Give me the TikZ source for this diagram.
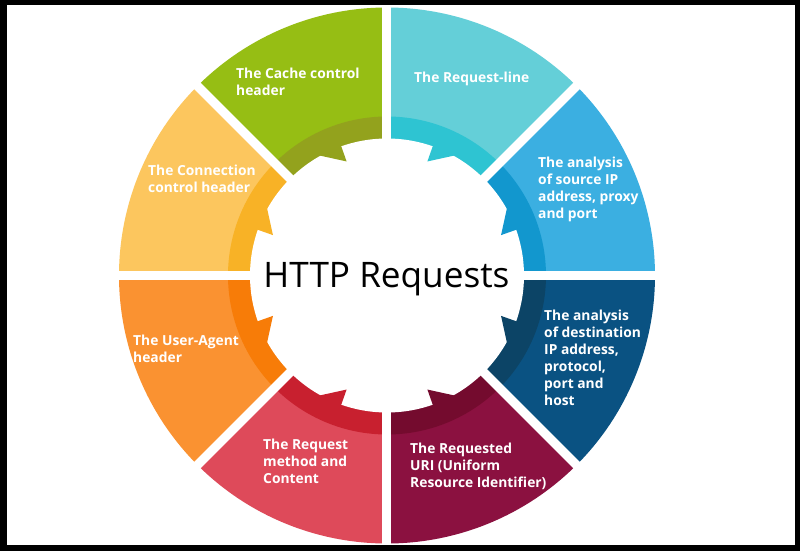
\documentclass[tikz,border=0pt]{standalone}
\usepackage{fontspec}
\setmainfont{Open Sans}
\usepackage{xcolor}
\usepackage{tikz}
\usetikzlibrary{positioning}
\definecolor{blueA}{HTML}{3BAFE1}
\definecolor{blueB}{HTML}{1297CE}
\definecolor{tealA}{HTML}{64CFD8}
\definecolor{tealB}{HTML}{2EC4D2}
\definecolor{greenA}{HTML}{96BE14}
\definecolor{greenB}{HTML}{93A21D}
\definecolor{yellowA}{HTML}{FCC65E}
\definecolor{yellowB}{HTML}{F8B226}
\definecolor{orangeA}{HTML}{FA9231}
\definecolor{orangeB}{HTML}{F77C08}
\definecolor{redA}{HTML}{DE4A5A}
\definecolor{redB}{HTML}{C8202F}
\definecolor{maroonA}{HTML}{8B1140}
\definecolor{maroonB}{HTML}{740B2E}
\definecolor{navyA}{HTML}{0A5282}
\definecolor{navyB}{HTML}{0C4466}
\tikzstyle{seglabel} = [text=white, font=\bfseries\fontsize{11.8}{14.5}\selectfont,
    align=left, anchor=north west, inner sep=0pt]
\tikzstyle{hub} = [font=\fontsize{30}{36}\selectfont, anchor=base, inner sep=0pt]
\tikzstyle{gap} = [draw=white, line width=0.27cm]

\begin{document}
\begin{tikzpicture}[x=0.03cm, y=0.03cm]
  \useasboundingbox (-387,-275.5) rectangle (413,275.5);
  % Frame
  \fill[black] (-387,-275.5) rectangle (413,275.5);
  \fill[white] (-380,-269.5) rectangle (408,270.5);
  % Outer segments
  \fill[blueA] (0,0) -- (0:268) arc[start angle=0, end angle=45, radius=268] -- cycle;
  \fill[tealA] (0,0) -- (45:268) arc[start angle=45, end angle=90, radius=268] -- cycle;
  \fill[greenA] (0,0) -- (90:268) arc[start angle=90, end angle=135, radius=268] -- cycle;
  \fill[yellowA] (0,0) -- (135:268) arc[start angle=135, end angle=180, radius=268] -- cycle;
  \fill[orangeA] (0,0) -- (180:268) arc[start angle=180, end angle=225, radius=268] -- cycle;
  \fill[redA] (0,0) -- (225:268) arc[start angle=225, end angle=270, radius=268] -- cycle;
  \fill[maroonA] (0,0) -- (270:268) arc[start angle=270, end angle=315, radius=268] -- cycle;
  \fill[navyA] (0,0) -- (315:268) arc[start angle=315, end angle=360, radius=268] -- cycle;
  % Inner bands
  \fill[blueB] (0,0) -- (0:159) arc[start angle=0, end angle=45, radius=159] -- cycle;
  \fill[tealB] (0,0) -- (45:159) arc[start angle=45, end angle=90, radius=159] -- cycle;
  \fill[greenB] (0,0) -- (90:159) arc[start angle=90, end angle=135, radius=159] -- cycle;
  \fill[yellowB] (0,0) -- (135:159) arc[start angle=135, end angle=180, radius=159] -- cycle;
  \fill[orangeB] (0,0) -- (180:159) arc[start angle=180, end angle=225, radius=159] -- cycle;
  \fill[redB] (0,0) -- (225:159) arc[start angle=225, end angle=270, radius=159] -- cycle;
  \fill[maroonB] (0,0) -- (270:159) arc[start angle=270, end angle=315, radius=159] -- cycle;
  \fill[navyB] (0,0) -- (315:159) arc[start angle=315, end angle=360, radius=159] -- cycle;
  \fill[white] (0,0) circle[radius=137];
  % Teeth
  \fill[blueB] (19.5:141) -- (19.5:121) -- (29.5:138) -- cycle;
  \fill[tealB] (70.5:141) -- (70.5:121) -- (60.5:138) -- cycle;
  \fill[greenB] (109.5:141) -- (109.5:121) -- (119.5:138) -- cycle;
  \fill[yellowB] (160.5:141) -- (160.5:121) -- (150.5:138) -- cycle;
  \fill[orangeB] (199.5:141) -- (199.5:121) -- (209.5:138) -- cycle;
  \fill[redB] (250.5:141) -- (250.5:121) -- (240.5:138) -- cycle;
  \fill[maroonB] (289.5:141) -- (289.5:121) -- (299.5:138) -- cycle;
  \fill[navyB] (340.5:141) -- (340.5:121) -- (330.5:138) -- cycle;
  % Gaps
  \path[gap] (0:269) -- (180:269);
  \path[gap] (45:269) -- (225:269);
  \path[gap] (90:269) -- (270:269);
  \path[gap] (135:269) -- (315:269);
  % Place nodes
  \node[hub] (http) at (-0.5,-11.5) {HTTP Requests};
  \node[seglabel] (cache) at (-151,207.5) {The Cache control\\header};
  \node[seglabel] (reqline) at (27,203.5) {The Request-line};
  \node[seglabel] (source) at (151,118.5) {The analysis\\of source IP\\address, proxy\\and port};
  \node[seglabel] (dest) at (157,-34.5) {The analysis\\of destination\\IP address,\\protocol,\\port and\\host};
  \node[seglabel] (uri) at (23,-167.5) {The Requested\\URI (Uniform\\Resource Identifier)};
  \node[seglabel] (method) at (-124,-163.5) {The Request\\method and\\Content};
  \node[seglabel] (agent) at (-254,-59.5) {The User-Agent\\header};
  \node[seglabel] (conn) at (-239,110.5) {The Connection\\control header};
\end{tikzpicture}
\end{document}
